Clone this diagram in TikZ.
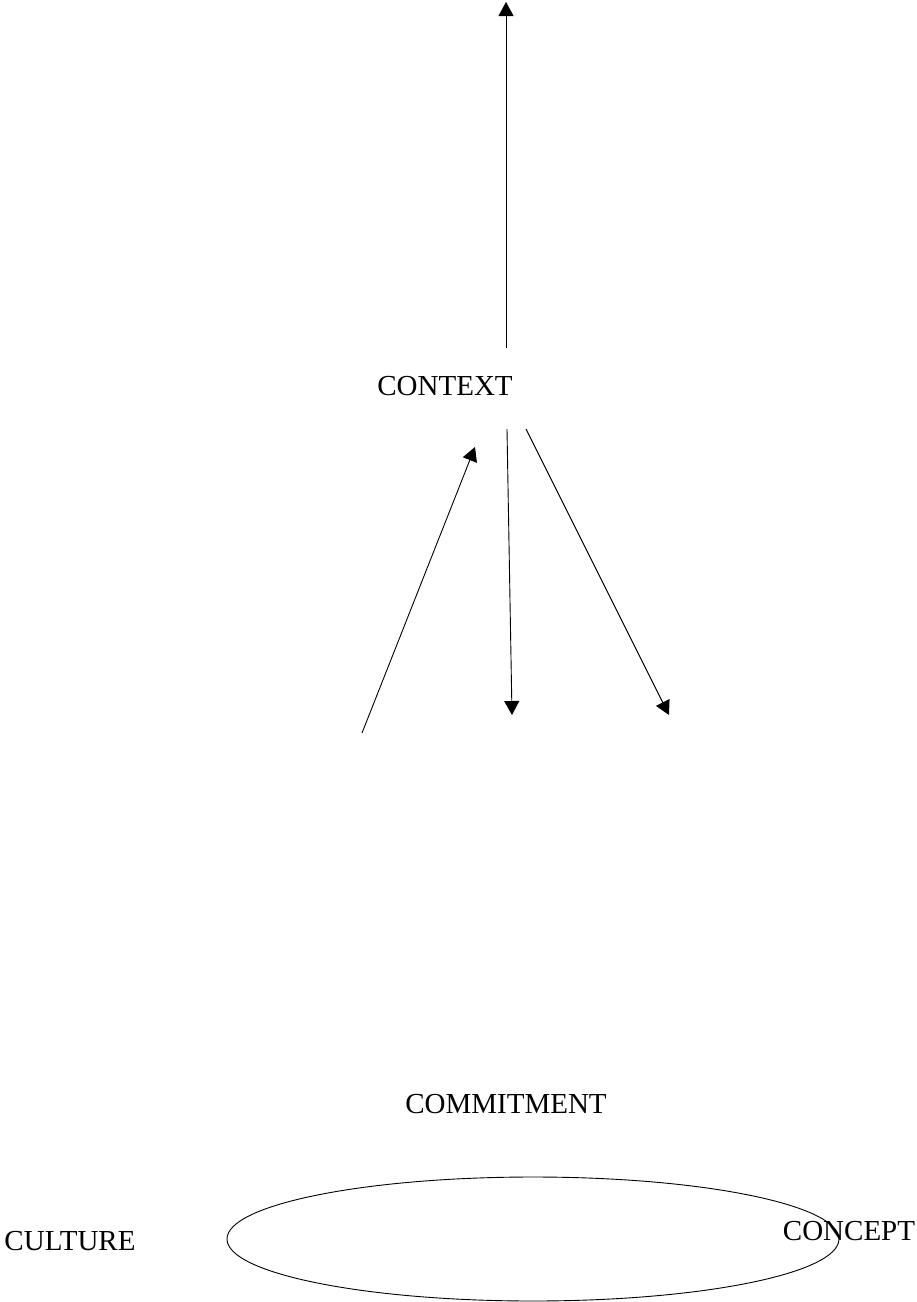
\documentclass[tikz,border=0pt]{standalone}
\usepackage{fontspec}
\setmainfont{Liberation Serif}
\usetikzlibrary{arrows.meta}
\tikzset{
    label/.style={anchor=base, inner sep=0pt, font=\fontsize{29}{31}\selectfont},
    link/.style={line width=0.9pt, -{Triangle[length=14pt, width=15pt]}}
}
\begin{document}
\begin{tikzpicture}[x=1pt, y=-1pt]
    \useasboundingbox (0,0) rectangle (917,1302);

    %labels
    \node[label] (context) at (445,395) {CONTEXT};
    \node[label] (commitment) at (506,1113) {COMMITMENT};
    \node[label] (culture) at (70,1250) {CULTURE};
    \node[label] (concept) at (849,1240) {CONCEPT};

    %arrow ends
    \coordinate (top) at (506,2);
    \coordinate (upfoot) at (506,348);
    \coordinate (leftfoot) at (362,733);
    \coordinate (lefthead) at (475,447);
    \coordinate (midstart) at (507,429);
    \coordinate (midhead) at (512,715);
    \coordinate (rightstart) at (526,429);
    \coordinate (righthead) at (669,715);

    %arrows
    \draw[link] (upfoot) -- (top);
    \draw[link] (leftfoot) -- (lefthead);
    \draw[link] (midstart) -- (midhead);
    \draw[link] (rightstart) -- (righthead);

    %ellipse
    \draw[line width=0.9pt] (533,1239) ellipse (306 and 62);

\end{tikzpicture}
\end{document}
